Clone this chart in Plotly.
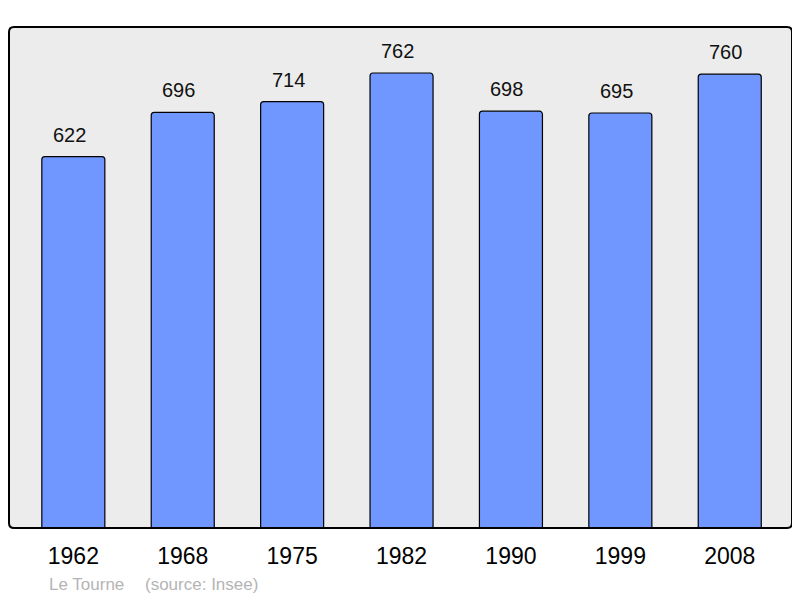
import plotly.graph_objects as go

years = ["1962", "1968", "1975", "1982", "1990", "1999", "2008"]
population = [622, 696, 714, 762, 698, 695, 760]
commune = "Le Tourne"
source = "(source: Insee)"

# page body has an 8px margin: figure occupies 8..800 x 8..598
OFF = 8
W, H = 800 - OFF, 598 - OFF
L, R, T, B = 9 - OFF, 800 - 792, 27 - OFF, 598 - 528
pw, ph = 792 - 9, 528 - 27

xs = list(range(len(years)))
FONT = "Liberation Sans, Arial, sans-serif"

fig = go.Figure()
fig.add_trace(go.Bar(
    x=xs, y=population, width=0.576,
    marker=dict(color="#7096ff", line=dict(color="#000000", width=1.2), cornerradius=3),
    hoverinfo="skip",
))

for xv, v in zip(xs, population):
    fig.add_annotation(x=xv, y=v, xref="x", yref="y", text=str(v), showarrow=False,
                       yshift=22, xshift=-4, yanchor="middle",
                       font=dict(size=20, color="#111111", family=FONT))

# rounded border around plot area
rx, ry = 5 / pw, 5 / ph
path = (f"M {rx},0 L {1-rx},0 Q 1,0 1,{ry} L 1,{1-ry} Q 1,1 {1-rx},1 "
        f"L {rx},1 Q 0,1 0,{1-ry} L 0,{ry} Q 0,0 {rx},0 Z")
fig.add_shape(type="path", path=path, xref="paper", yref="paper",
              line=dict(color="#000000", width=2), fillcolor="rgba(0,0,0,0)", layer="above")

fy = (528 - 584) / ph
fig.add_annotation(x=(47 - 9) / pw, y=fy, xref="paper", yref="paper",
                   text=commune, showarrow=False, xanchor="left", yanchor="middle",
                   font=dict(size=17, color="#b4b4b4", family=FONT))
fig.add_annotation(x=(143 - 9) / pw, y=fy, xref="paper", yref="paper",
                   text=source, showarrow=False, xanchor="left", yanchor="middle",
                   font=dict(size=17, color="#b4b4b4", family=FONT))

fig.update_layout(
    width=W, height=H,
    margin=dict(l=L, r=R, t=T, b=B),
    paper_bgcolor="#ffffff", plot_bgcolor="#ececec",
    showlegend=False,
    font=dict(family=FONT, color="#000000"),
    xaxis=dict(range=[-0.588, 6.569], tickmode="array", tickvals=xs, ticktext=years,
               showgrid=False, zeroline=False, showline=False, ticks="",
               tickfont=dict(size=23, color="#000000"), ticklabelstandoff=12, fixedrange=True),
    yaxis=dict(range=[0, 839], showgrid=False, zeroline=False, showline=False,
               showticklabels=False, ticks="", fixedrange=True),
)

fig.write_html("out.html")
